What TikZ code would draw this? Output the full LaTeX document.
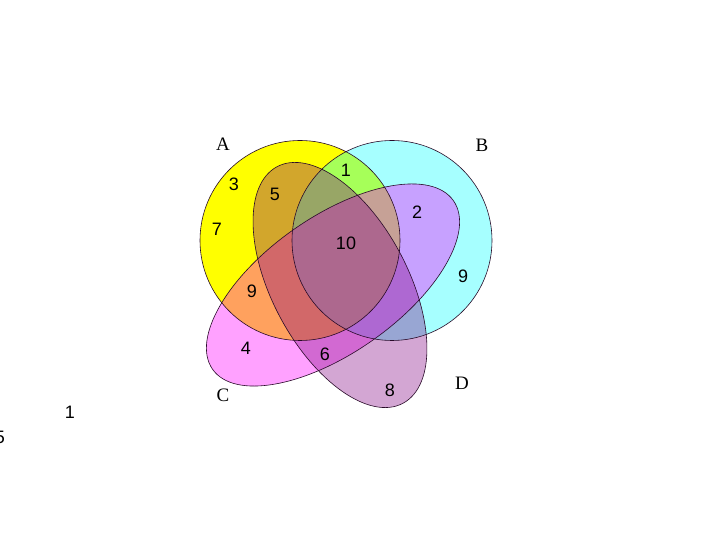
\documentclass[tikz,border=0pt]{standalone}
\usepackage{fontspec}
\setmainfont{Liberation Serif}
\newfontfamily\digitfont{Liberation Sans}
\definecolor{setA}{RGB}{255,255,0}
\definecolor{setB}{RGB}{0,255,255}
\definecolor{setC}{RGB}{255,0,255}
\definecolor{setD}{RGB}{128,0,128}
\definecolor{edge}{RGB}{40,10,40}
\begin{document}
\begin{tikzpicture}[x=1pt,y=1pt,
  setline/.style={draw=edge,line width=0.6pt},
  num/.style={font=\digitfont\fontsize{18}{20}\selectfont,inner sep=0pt},
  setname/.style={font=\fontsize{19}{21}\selectfont,inner sep=0pt}]
\useasboundingbox (0,0) rectangle (720,540);
\clip (0,0) rectangle (720,540);
% fills
\fill[setA] (300,299.5) circle (100);
\fill[setB,fill opacity=0.35] (392,299.5) circle (100);
\fill[setC,fill opacity=0.37,rotate around={35:(333,255)}] (333,255) ellipse (147 and 68);
\fill[setD,fill opacity=0.35,rotate around={-62:(340,255)}] (340,255) ellipse (134 and 68);
% outlines
\draw[setline] (300,299.5) circle (100);
\draw[setline] (392,299.5) circle (100);
\draw[setline,rotate around={35:(333,255)}] (333,255) ellipse (147 and 68);
\draw[setline,rotate around={-62:(340,255)}] (340,255) ellipse (134 and 68);
% set names
\node[setname] (lA) at (223,396) {A};
\node[setname] (lB) at (482,395) {B};
\node[setname] (lC) at (223,145) {C};
\node[setname] (lD) at (462,157) {D};
% numbers
\node[num] (n3) at (234,356) {3};
\node[num] (n5) at (275,346) {5};
\node[num] (n1) at (346,370) {1};
\node[num] (n7) at (217,311) {7};
\node[num] (n2) at (417,328) {2};
\node[num] (n10) at (346,297) {10};
\node[num] (n9r) at (463,264) {9};
\node[num] (n9l) at (252,249) {9};
\node[num] (n4) at (246,192) {4};
\node[num] (n6) at (325,186) {6};
\node[num] (n8) at (390,150) {8};
\node[num] (o1) at (70,128) {1};
\node[num] (o5) at (0,103) {5};
\end{tikzpicture}
\end{document}
